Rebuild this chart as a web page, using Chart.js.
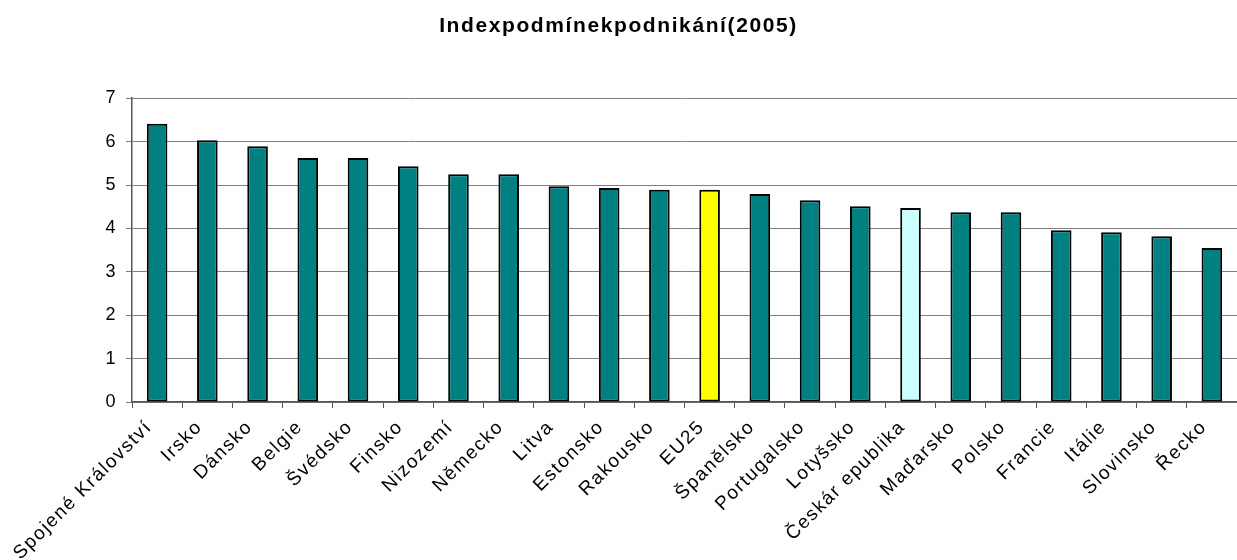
<!DOCTYPE html>
<html>
<head>
<meta charset="utf-8">
<script src="https://cdn.jsdelivr.net/npm/chart.js@4/dist/chart.umd.min.js"></script>
<style>
    html, body { margin: 0; padding: 0; background: #fff; }
    #wrap { width: 1237px; height: 560px; }
</style>
</head>
<body>
<div id="wrap"><canvas id="myChart"></canvas></div>
<script>
const countries = [
    "Spojené Království", "Irsko", "Dánsko", "Belgie", "Švédsko", "Finsko",
    "Nizozemí", "Německo", "Litva", "Estonsko", "Rakousko", "EU25",
    "Španělsko", "Portugalsko", "Lotyšsko", "Českár epublika", "Maďarsko",
    "Polsko", "Francie", "Itálie", "Slovinsko", "Řecko"
];
const indexValues = [
    6.41, 6.03, 5.89, 5.62, 5.62, 5.43,
    5.25, 5.25, 4.97, 4.93, 4.89, 4.89,
    4.79, 4.65, 4.51, 4.47, 4.37,
    4.37, 3.96, 3.91, 3.82, 3.55
];
const yTicks = [0, 1, 2, 3, 4, 5, 6, 7];
const titleText = "Indexpodmínekpodnikání(2005)";

const FONT = "'Liberation Sans', Arial, sans-serif";

// EU average in yellow, Czech republic in light cyan, the rest teal
const barColors = countries.map( c => {
    if ( c === "EU25" ) return "#ffff00";
    if ( c.startsWith( "Česk" ) ) return "#ccffff";
    return "#008080";
} );

// text in this chart is a little spaced out
const letterSpacing = {
    id: "letterSpacing",
    beforeDraw( chart ) {
        chart.ctx.letterSpacing = "1.6px";
    }
};

const ctx = document.getElementById( "myChart" ).getContext( "2d" );

new Chart( ctx, {
    type: "bar",
    data: {
        labels: [...countries],
        datasets: [
            {
                label: titleText,
                data: [...indexValues],
                backgroundColor: barColors,
                borderColor: "#000000",
                borderWidth: 2,
                borderSkipped: false,
                barPercentage: 0.41,
                categoryPercentage: 1.0,
            }
        ]
    },
    plugins: [letterSpacing],
    options: {
        responsive: true,
        maintainAspectRatio: false,
        animation: false,
        layout: {
            padding: 0
        },
        plugins: {
            legend: { display: false },
            tooltip: { enabled: false },
            title: {
                display: true,
                text: titleText,
                color: "#000",
                font: { family: FONT, size: 21, weight: "bold" },
                padding: { top: 14, bottom: 59 }
            }
        },
        scales: {
            x: {
                // fixed height, and let the plot run to the right edge
                afterFit: axis => {
                    axis.height = 158;
                    axis.paddingLeft = 0;
                    axis.paddingRight = 0;
                },
                grid: {
                    display: true,
                    drawOnChartArea: false,
                    drawTicks: true,
                    tickLength: 6,
                    color: "#555",
                    offset: true,
                },
                border: { color: "#555", width: 1.5 },
                ticks: {
                    autoSkip: false,
                    maxRotation: 45,
                    minRotation: 45,
                    color: "#000",
                    padding: 8,
                    labelOffset: -8,
                    font: { family: FONT, size: 19 }
                }
            },
            y: {
                min: 0,
                max: 7,
                afterFit: axis => { axis.width = 132; },
                afterBuildTicks: axis => {
                    axis.ticks = yTicks.map( v => ( { value: v } ) );
                },
                grid: {
                    color: "#808080",
                    lineWidth: 1,
                    tickLength: 6,
                },
                border: { color: "#555", width: 1.5 },
                ticks: {
                    color: "#000",
                    padding: 9,
                    font: { family: FONT, size: 18 }
                }
            }
        }
    }
} );
</script>
</body>
</html>
